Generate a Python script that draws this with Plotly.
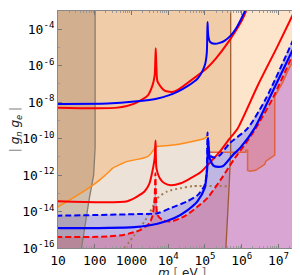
import numpy as np
import plotly.graph_objects as go

# ---------------- data: log10(m / eV) and log10(|g_n g_e|) ----------------
orange_lm = [0.95, 1.40, 1.75, 2.13, 2.43, 2.48, 2.89, 3.30, 3.45, 3.60, 3.66, 4.07, 4.53, 4.99, 5.07]
orange_lg = [-13.81, -13.27, -12.83, -12.28, -11.74, -11.63, -11.25, -11.08, -10.98, -10.62, -10.45, -10.37, -10.21, -9.99, -9.83]
orange_step_lm = [5.07, 5.70]
orange_step_lg = [-10.75, -10.75]

b1_lm = [2.01, 2.01, 1.97, 1.85, 1.64]
b1_lg = [-2.5, -10.5, -12.0, -13.3, -16.0]
b2_lm = [5.70, 5.70, 5.66, 5.57]
b2_lg = [-2.5, -10.7, -12.5, -16.0]

blue_up_lm = [0.95, 2.35, 3.08, 3.71, 4.26, 4.80, 5.00, 5.05, 5.07, 5.09, 5.14, 5.26, 5.40, 5.54, 5.70, 5.85, 5.97, 6.10]
blue_up_lg = [-8.10, -8.08, -7.97, -7.80, -7.42, -6.71, -5.95, -5.30, -3.60, -4.35, -4.70, -4.80, -4.75, -4.62, -4.35, -3.95, -3.50, -2.95]

red_up_lm = [0.95, 2.62, 3.08, 3.44, 3.57, 3.63, 3.66, 3.68, 3.71, 3.90, 4.17, 4.61, 5.07, 5.30, 5.62, 5.98, 6.12]
red_up_lg = [-8.30, -8.30, -8.08, -7.64, -7.09, -6.55, -5.05, -6.16, -6.87, -7.37, -7.42, -6.82, -6.10, -5.60, -4.75, -3.61, -3.00]

red_lo_lm = [0.95, 2.89, 3.17, 3.36, 3.49, 3.57, 3.63, 3.655, 3.68, 3.77, 3.90, 4.07, 4.34, 4.61, 4.88, 5.15, 5.40, 5.67, 5.89, 6.44, 6.98, 7.44]
red_lo_lg = [-13.43, -13.43, -13.16, -12.89, -12.45, -11.79, -11.08, -10.10, -11.63, -12.17, -12.45, -12.56, -12.45, -12.17, -11.85, -11.28, -10.73, -10.00, -9.44, -7.07, -4.91, -3.00]

bdash_lm = [0.95, 3.17, 3.71, 4.07, 4.53, 4.80, 4.99, 5.05, 5.07, 5.10, 5.16, 5.26, 5.40, 5.67, 6.16, 6.66, 7.76]
bdash_lg = [-14.23, -14.14, -14.09, -13.81, -13.43, -13.10, -12.56, -11.80, -9.66, -10.54, -10.97, -11.03, -10.92, -10.26, -9.44, -7.80, -2.95]

bsol_lm = [0.95, 3.08, 3.71, 4.17, 4.53, 4.80, 4.99, 5.06, 5.085, 5.13, 5.26, 5.48, 5.75, 5.97, 6.35, 6.75, 7.76]
bsol_lg = [-14.91, -14.85, -14.67, -14.36, -13.92, -13.43, -12.72, -11.63, -9.99, -11.08, -11.52, -11.52, -10.92, -10.48, -9.44, -7.80, -3.57]

rdash_lm = [0.95, 2.35, 2.81, 3.25, 3.49, 3.57, 3.63, 3.65, 3.67, 3.71, 3.85, 4.07, 4.45, 4.88, 5.07, 5.43, 5.81, 6.11, 6.38, 6.84, 7.76]
rdash_lg = [-15.40, -15.37, -15.27, -15.00, -14.63, -14.25, -13.27, -11.90, -13.27, -14.20, -14.47, -14.55, -14.25, -13.60, -13.25, -12.25, -11.08, -10.26, -9.44, -7.80, -3.72]

dot_lm = [2.81, 3.08, 3.36, 3.49, 3.71, 3.98, 4.34, 4.66, 5.62]
dot_lg = [-16.0, -15.29, -14.52, -14.09, -13.27, -12.89, -12.72, -12.61, -12.61]

ro_lm = [5.07, 6.11, 6.11, 6.16, 6.16, 6.22, 6.38, 6.52, 6.63, 6.65, 6.79, 6.90, 6.90, 6.98, 7.12, 7.25, 7.34, 7.44, 7.46, 7.58, 7.61, 7.72, 7.77]
ro_lg = [-10.75, -10.75, -10.64, -10.64, -11.74, -11.79, -11.74, -11.57, -11.41, -11.25, -11.08, -10.90, -7.70, -7.40, -6.90, -6.30, -5.95, -5.60, -5.50, -5.10, -4.95, -4.75, -4.60]

x_tick_vals = [1e1, 1e2, 1e3, 1e4, 1e5, 1e6, 1e7]
x_tick_text = ['10', '100', '1000', '10<sup>4</sup>', '10<sup>5</sup>', '10<sup>6</sup>', '10<sup>7</sup>']
y_tick_exps = [-16, -14, -12, -10, -8, -6, -4]

# ---------------- helpers ----------------
X_LO, X_HI, Y_LO, Y_HI = 0.9, 7.9, -17.0, -2.0


def P(lm, lg):
    return 10 ** np.asarray(lm, float), 10 ** np.asarray(lg, float)


fig = go.Figure()


def add_fill(lm, lg, color):
    x, y = P(lm, lg)
    fig.add_trace(go.Scatter(x=x, y=y, mode='lines', fill='toself', fillcolor=color,
                             line=dict(width=0, color=color), hoverinfo='skip', showlegend=False))


def add_line(lm, lg, color, width=2, dash='solid', smooth=True):
    x, y = P(lm, lg)
    line = dict(color=color, width=width, dash=dash)
    if smooth:
        line.update(shape='spline', smoothing=0.7)
    fig.add_trace(go.Scatter(x=x, y=y, mode='lines', line=line,
                             hoverinfo='skip', showlegend=False))


rd_lm = np.array(rdash_lm)
rd_lg = np.array(rdash_lg)
right = rd_lm > 4.9

# beige region: left of boundary B2
add_fill([X_LO, b2_lm[0]] + b2_lm + [b2_lm[-1], X_LO],
         [Y_HI, Y_HI] + b2_lg + [Y_LO, Y_LO], '#ece2d8')

# orange region: above the orange line, left of B2
add_fill(orange_lm + orange_step_lm + [b2_lm[0], X_LO],
         orange_lg + orange_step_lg + [Y_HI, Y_HI], '#f1cca9')

# lavender band between blue dashed and red dashed
add_fill(list(bdash_lm) + list(rd_lm[::-1]), list(bdash_lg) + list(rd_lg[::-1]), '#beb7e3')

# purple region below the red dashed curve
add_fill(list(rd_lm) + [X_HI, X_HI, X_LO], list(rd_lg) + [rd_lg[-1], Y_LO, Y_LO], '#d9a6d3')

# mauve part (below red dashed, left of B2)
b2_lm_a = np.array(b2_lm)
b2_lg_a = np.array(b2_lg)
c2_lm = 5.68
for _ in range(20):
    c2_lg = np.interp(c2_lm, rd_lm[right], rd_lg[right])
    c2_lm = np.interp(c2_lg, b2_lg_a[::-1], b2_lm_a[::-1])
sel = rd_lm < c2_lm
below = b2_lg_a < c2_lg
add_fill(list(rd_lm[sel]) + [c2_lm] + list(b2_lm_a[below]) + [b2_lm[-1], X_LO],
         list(rd_lg[sel]) + [c2_lg] + list(b2_lg_a[below]) + [Y_LO, Y_LO], '#c992b8')

# dark pink region (above the outline, below the red dashed curve)
ro_lm_a = np.array(ro_lm)
ro_lg_a = np.array(ro_lg)
c1_lm = np.interp(ro_lg[0], rd_lg[right], rd_lm[right])
m_o = ro_lm_a > c1_lm
m_r = right & (rd_lm > c1_lm)
add_fill([c1_lm] + list(ro_lm_a[m_o]) + list(rd_lm[m_r][::-1]),
         [ro_lg[0]] + list(ro_lg_a[m_o]) + list(rd_lg[m_r][::-1]), '#d98ea9')

# translucent dark-tan region left of boundary B1
add_fill([X_LO, b1_lm[0]] + b1_lm + [b1_lm[-1], X_LO],
         [Y_HI, Y_HI] + b1_lg + [Y_LO, Y_LO], 'rgba(140,110,80,0.30)')

# ---------------- lines ----------------
add_line(b1_lm, b1_lg, '#8a7c6e', 1.3, smooth=False)
add_line(b2_lm, b2_lg, 'rgba(150,80,35,0.9)', 1.3, smooth=False)
add_line(dot_lm, dot_lg, '#a07850', 2, '2px,3px')
add_line(orange_lm, orange_lg, '#ff8c1a', 1.5)
add_line(ro_lm, ro_lg, '#e0643c', 1.5, smooth=False)
add_line(red_up_lm, red_up_lg, '#ff0000', 2)
add_line(red_lo_lm, red_lo_lg, '#ff0000', 2)
add_line(rdash_lm, rdash_lg, '#ff0000', 2, '6px,3px')
add_line(blue_up_lm, blue_up_lg, '#0000ff', 2)
add_line(bsol_lm, bsol_lg, '#0000ff', 2.2)
add_line(bdash_lm, bdash_lg, '#0000ff', 2, '6px,3px')

# ---------------- layout ----------------
x_minor = [k * 10 ** d for d in range(1, 8) for k in range(2, 10)]
y_minor = [10.0 ** e for e in range(-16, -2) if e % 2 != 0]

fig.update_layout(
    width=300, height=275,
    margin=dict(l=50, r=2, t=3, b=35),
    paper_bgcolor='white', plot_bgcolor='#fde5cb',
    font=dict(family='DejaVu Sans Mono', size=13, color='black'),
    showlegend=False,
)
fig.add_annotation(
    text='<i>m</i> <span style="color:#777">[</span> eV <span style="color:#777">]</span>',
    xref='paper', yref='paper', x=0.5, y=-0.105, xanchor='center', yanchor='middle',
    showarrow=False, font=dict(family='DejaVu Sans', size=12, color='#222'),
)
fig.update_xaxes(
    type='log', range=[1.0, 7.75],
    tickmode='array', tickvals=x_tick_vals, ticktext=x_tick_text,
    ticks='inside', ticklen=4, tickcolor='#777',
    minor=dict(ticks='inside', ticklen=2, tickcolor='#999', tickvals=x_minor, showgrid=False),
    showline=True, linecolor='#888', linewidth=1, mirror='ticks',
    showgrid=False, zeroline=False,
)
fig.update_yaxes(
    type='log', range=[-16, -3],
    tickmode='array', tickvals=[10.0 ** e for e in y_tick_exps],
    ticktext=['10<sup>%d</sup>' % e for e in y_tick_exps],
    ticks='inside', ticklen=4, tickcolor='#777',
    minor=dict(ticks='inside', ticklen=2, tickcolor='#999', tickvals=y_minor, showgrid=False),
    showline=True, linecolor='#888', linewidth=1, mirror='ticks',
    showgrid=False, zeroline=False,
    title=dict(text='<span style="color:#888">|</span> <i>g<sub>n</sub> g<sub>e</sub></i> <span style="color:#888">|</span>',
               font=dict(family='DejaVu Sans', size=12, color='#222'), standoff=2),
)

fig.write_html('out.html')
